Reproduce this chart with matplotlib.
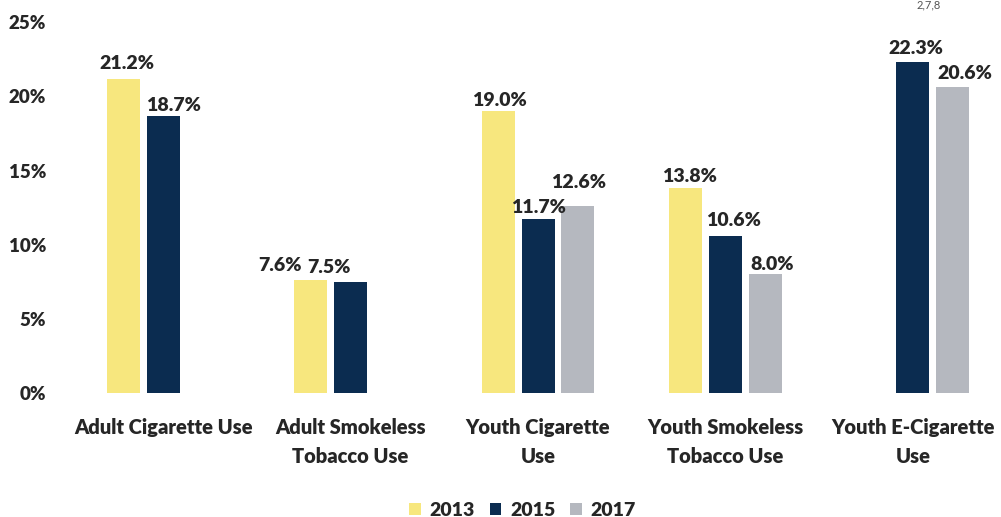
import matplotlib
matplotlib.use("Agg")
import matplotlib.pyplot as plt
import numpy as np

categories = ["Adult Cigarette Use", "Adult Smokeless\nTobacco Use", "Youth Cigarette\nUse",
              "Youth Smokeless\nTobacco Use", "Youth E-Cigarette\nUse"]
years = ["2013", "2015", "2017"]
values = {
    "2013": [21.2, 7.6, 19.0, 13.8, None],
    "2015": [18.7, 7.5, 11.7, 10.6, 22.3],
    "2017": [None, None, 12.6, 8.0, 20.6],
}
colors = {"2013": "#F7E77E", "2015": "#0B2C50", "2017": "#B5B8BF"}
yticks = [0, 5, 10, 15, 20, 25]

# label nudges in pixels (x shift, gap above bar)
nudge = {
    "2013": [(4, 10), (-31, 9), (1, 5), (4, 6), None],
    "2015": [(10, 5), (-22, 9), (0, 6), (8, 10), (3, 8)],
    "2017": [None, None, (1, 18), (7, 4), (12, 8)],
}

plt.rcParams["font.family"] = ["Lato", "DejaVu Sans"]
txt = "#262626"
W = "heavy"

fig = plt.figure(figsize=(10.01, 5.17), dpi=100)
ax = fig.add_axes([0.06, 0.24, 0.94, 0.717])

x = np.arange(len(categories))
step = 0.213
width = 0.176
for i, yr in enumerate(years):
    xs = [x[j] + (i - 1) * step for j, v in enumerate(values[yr]) if v is not None]
    vs = [v for v in values[yr] if v is not None]
    nd = [n for n in nudge[yr] if n is not None]
    ax.bar(xs, vs, width, color=colors[yr], label=yr)
    for xx, v, (dx, dy) in zip(xs, vs, nd):
        ax.annotate("%.1f%%" % v, (xx, v), xytext=(dx, dy), textcoords="offset pixels",
                    ha="center", va="baseline", fontsize=14, fontweight=W, color=txt)

ax.set_xlim(-0.55, 4.47)
ax.set_ylim(0, 25)
ax.set_yticks(yticks)
ax.set_yticklabels(["%d%%" % t for t in yticks], fontsize=13.5, fontweight=W, color=txt)
ax.set_xticks(x)
ax.set_xticklabels(categories, fontsize=14.5, fontweight=W, color=txt, linespacing=1.6)
ax.tick_params(axis="x", length=0, pad=18)
ax.tick_params(axis="y", length=0, pad=10)
for s in ax.spines.values():
    s.set_visible(False)

fig.legend(loc="lower center", bbox_to_anchor=(0.522, -0.037), ncol=3, frameon=False,
           prop={"size": 14, "weight": W}, handlelength=0.6, handleheight=0.6, handletextpad=0.45,
           columnspacing=0.75, labelcolor=txt)

fig.text(0.928, 0.99, "2,7,8", fontsize=8, color="#555555", ha="center", va="center")

fig.savefig("out.png", dpi=100)
